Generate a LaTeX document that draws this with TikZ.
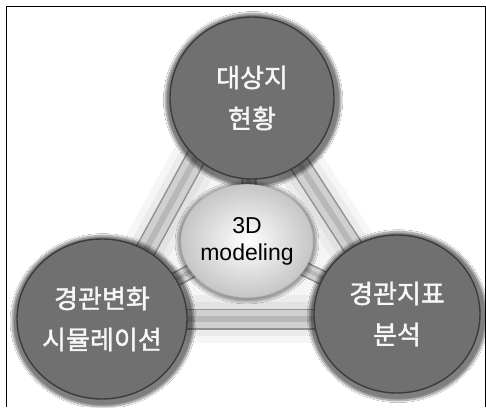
\documentclass[tikz,border=0pt]{standalone}
\usepackage{fontspec}
\newfontfamily\kr[FakeBold=1.5]{Noto Sans CJK KR}
\newfontfamily\lib{Liberation Sans}
\usetikzlibrary{shadows.blur,shapes.geometric,calc}
\pgfdeclarelayer{bg}
\pgfdeclarelayer{paper}
\pgfsetlayers{paper,bg,main}
\definecolor{ballgray}{HTML}{707070}
\definecolor{balledge}{HTML}{3C3C3C}
\definecolor{tubeA}{HTML}{909090}
\definecolor{tubeB}{HTML}{D0D0D0}
\definecolor{tubeC}{HTML}{B8B8B8}
\begin{document}
\begin{tikzpicture}[x=1pt,y=1pt,
  bigball/.style={ellipse, inner sep=0pt, fill=ballgray, draw=balledge, line width=1.4pt,
    text=gray!6, align=center, font=\kr\fontsize{26}{41}\selectfont,
    blur shadow={shadow xshift=1pt, shadow yshift=-2pt, shadow scale=1.07, shadow opacity=50, shadow blur steps=12}},
  coreball/.style={ellipse, inner sep=0pt, shading=radial, inner color=white, outer color=gray!45,
    draw=gray!55, line width=0.6pt, align=center, font=\lib\fontsize{23}{27}\selectfont,
    blur shadow={shadow xshift=0pt, shadow yshift=-1pt, shadow scale=1.06, shadow opacity=35, shadow blur steps=10}},
  glow/.style={line width=48pt, draw=gray, opacity=0.07, line cap=round},
  glowb/.style={line width=34pt, draw=gray, opacity=0.09},
  tubeouter/.style={line width=21pt, draw=tubeA},
  tubemid/.style={line width=18pt, draw=tubeB},
  tubeline/.style={line width=6pt, draw=tubeC},
  spokeouter/.style={line width=15pt, draw=tubeA},
  spokemid/.style={line width=12pt, draw=tubeB},
  spokeline/.style={line width=4pt, draw=tubeC},
  frameline/.style={draw=black, line width=1pt}
]
\useasboundingbox (0,0) rectangle (486,407);

\node[bigball, minimum width=164pt, minimum height=162pt] (t) at (252,309) {대상지\\현황};
\node[bigball, minimum width=170pt, minimum height=160pt] (l) at (102,88) {경관변화\\시뮬레이션};
\node[bigball, minimum width=166pt, minimum height=158pt] (r) at (397,93) {경관지표\\분석};
\node[coreball, minimum width=118pt, minimum height=113pt] (c) at (247,166) {3D\\modeling};

\coordinate (tl) at (229,310);
\coordinate (tr) at (256,310);
\coordinate (lt) at (108,88);
\coordinate (rt) at (399,89);
\coordinate (lh) at (102,88);
\coordinate (rh) at (397,88);

\begin{pgfonlayer}{paper}
  \fill[white] (0,0) rectangle (486,407);
  \draw[frameline] (6,0) -- (6,400) -- (485,400) -- (485,0);
\end{pgfonlayer}
\begin{pgfonlayer}{bg}
  \fill[gray!8] (tl) -- (lt) -- (rh) -- (tr) -- cycle;
  \foreach \a/\b in {tl/lt, tr/rt, lh/rh} {
    \draw[glow] (\a) -- (\b);
    \draw[glowb] (\a) -- (\b);
  }
  \foreach \a/\b in {tl/lt, tr/rt, lh/rh} {
    \draw[tubeouter] (\a) -- (\b);
    \draw[tubemid] (\a) -- (\b);
    \draw[tubeline] (\a) -- (\b);
  }
  \foreach \b in {t, l, r} {
    \draw[spokeouter] (c.center) -- (\b.center);
    \draw[spokemid] (c.center) -- (\b.center);
    \draw[spokeline] (c.center) -- (\b.center);
  }
\end{pgfonlayer}
\end{tikzpicture}
\end{document}
